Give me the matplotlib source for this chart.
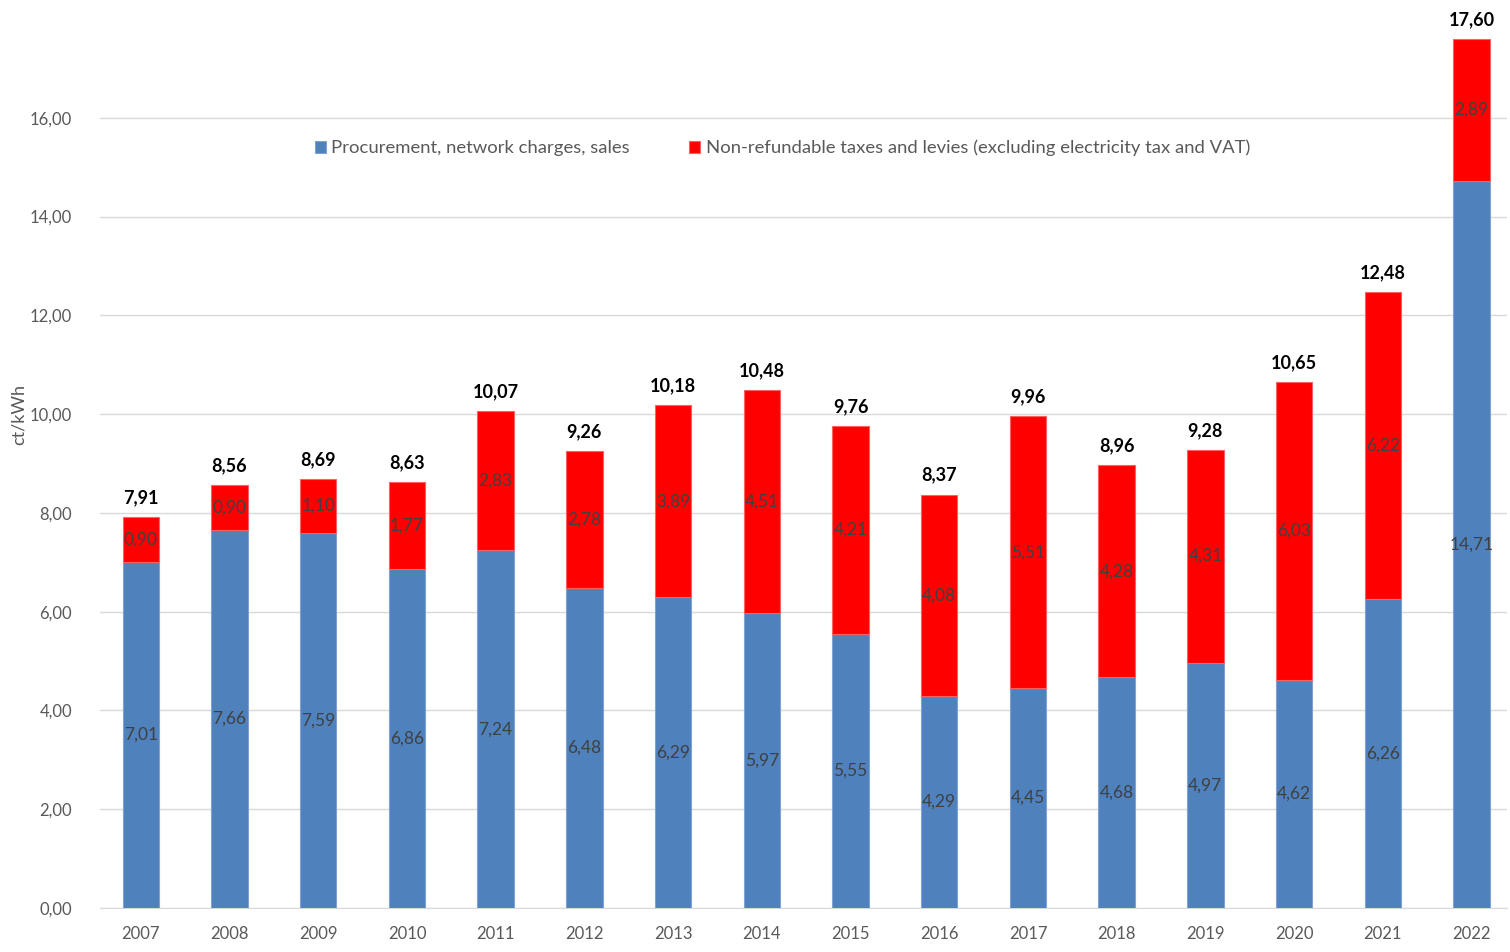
import matplotlib
matplotlib.use("Agg")
import matplotlib.pyplot as plt
import numpy as np

years = ["2007", "2008", "2009", "2010", "2011", "2012", "2013", "2014",
         "2015", "2016", "2017", "2018", "2019", "2020", "2021", "2022"]
procurement = [7.01, 7.66, 7.59, 6.86, 7.24, 6.48, 6.29, 5.97,
               5.55, 4.29, 4.45, 4.68, 4.97, 4.62, 6.26, 14.71]
taxes = [0.90, 0.90, 1.10, 1.77, 2.83, 2.78, 3.89, 4.51,
         4.21, 4.08, 5.51, 4.28, 4.31, 6.03, 6.22, 2.89]
totals = [7.91, 8.56, 8.69, 8.63, 10.07, 9.26, 10.18, 10.48,
          9.76, 8.37, 9.96, 8.96, 9.28, 10.65, 12.48, 17.60]

plt.rcParams['font.family'] = ['Lato', 'DejaVu Sans']


def de(v):
    return f"{v:.2f}".replace(".", ",")


fig = plt.figure(figsize=(15.1, 9.52), dpi=100)
ax = fig.add_axes([100 / 1510, 1 - 908 / 952, 1407 / 1510, 889 / 952])

x = np.arange(len(years))
w = 0.41
ax.bar(x, procurement, w, color='#4F81BD', edgecolor='#7FA3D3', linewidth=0.8,
       label='Procurement, network charges, sales', zorder=3)
ax.bar(x, taxes, w, bottom=procurement, color='#FF0000', edgecolor='#FF6060',
       linewidth=0.8,
       label='Non-refundable taxes and levies (excluding electricity tax and VAT)',
       zorder=3)

for i in range(len(years)):
    ax.text(x[i], procurement[i] / 2, de(procurement[i]), ha='center', va='center',
            fontsize=12.5, color='#404040', zorder=4)
    ax.text(x[i], procurement[i] + taxes[i] / 2, de(taxes[i]), ha='center',
            va='center', fontsize=12.5, color='#404040', zorder=4)
    ax.text(x[i], totals[i] + 0.22, de(totals[i]), ha='center', va='bottom',
            fontsize=13, fontweight='bold', color='black', zorder=4)

ax.set_xlim(-0.46, 15.4)
ax.set_ylim(0, 18)
ax.set_yticks(np.arange(0, 17, 2))
ax.set_yticklabels([de(v) for v in np.arange(0, 17, 2)])
ax.set_xticks(x)
ax.set_xticklabels(years)
ax.tick_params(axis='both', length=0, labelsize=12, colors='#595959')
ax.tick_params(axis='x', pad=13)
ax.tick_params(axis='y', pad=20)
ax.grid(axis='y', color='#D9D9D9', linewidth=1, zorder=0)
for s in ['top', 'right', 'left']:
    ax.spines[s].set_visible(False)
ax.spines['bottom'].set_color('#D9D9D9')
ax.set_ylabel('ct/kWh', fontsize=13, color='#595959')
ax.yaxis.set_label_coords(-0.052, 0.555)

ax.legend(loc='center', bbox_to_anchor=(0.485, 0.855), ncol=2, frameon=False,
          fontsize=13.3, labelcolor='#595959', handlelength=0.6, handleheight=0.6,
          handletextpad=0.3, columnspacing=3.2)

fig.savefig('out.png', dpi=100)
